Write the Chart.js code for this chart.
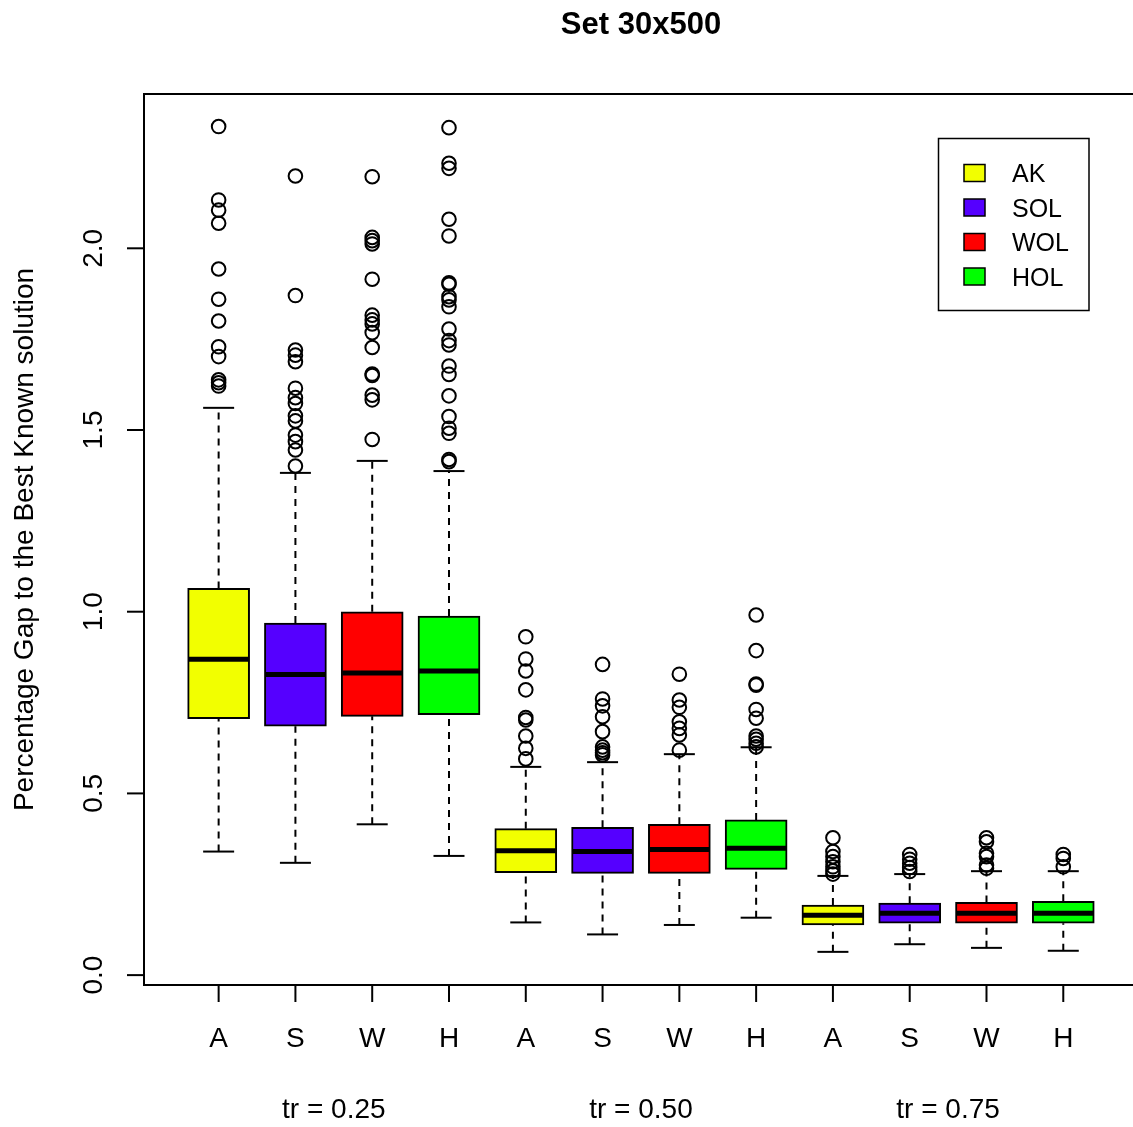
<!DOCTYPE html>
<html lang="en">
<head>
    <meta charset="UTF-8">
    <title>Set 30x500</title>
    <script src="https://cdn.jsdelivr.net/npm/chart.js@4.4.1/dist/chart.umd.min.js"></script>
    <style>
        body { margin: 0; background: #fff; overflow: hidden; }
        #wrap { width: 1133px; height: 1127px; }
    </style>
</head>
<body>
    <div id="wrap"><canvas id="chart" width="1133" height="1127"></canvas></div>

    <script>
        // box order: tr=0.25 (A S W H), tr=0.50 (A S W H), tr=0.75 (A S W H)
        const methods = ['AK', 'SOL', 'WOL', 'HOL'];
        const methodColors = ['#f2ff00', '#5500ff', '#ff0000', '#00ff00'];
        const boxLabels = ['A', 'S', 'W', 'H', 'A', 'S', 'W', 'H', 'A', 'S', 'W', 'H'];
        const groupLabels = ['tr = 0.25', 'tr = 0.50', 'tr = 0.75'];
        const yTicks = [0, 0.5, 1.0, 1.5, 2.0];
        const yTickLabels = ['0.0', '0.5', '1.0', '1.5', '2.0'];

        const lowerWhisker = [0.340, 0.309, 0.415, 0.328, 0.145, 0.112, 0.138, 0.158, 0.064, 0.085, 0.075, 0.067];
        const lowerQuart   = [0.706, 0.685, 0.712, 0.717, 0.282, 0.280, 0.280, 0.291, 0.138, 0.143, 0.143, 0.143];
        const medians      = [0.869, 0.827, 0.831, 0.837, 0.342, 0.340, 0.346, 0.349, 0.165, 0.170, 0.170, 0.170];
        const upperQuart   = [1.064, 0.969, 1.000, 0.988, 0.403, 0.407, 0.415, 0.427, 0.193, 0.198, 0.200, 0.203];
        const upperWhisker = [1.561, 1.382, 1.415, 1.387, 0.573, 0.586, 0.608, 0.627, 0.273, 0.278, 0.286, 0.286];

        const outliers = [
            [2.335, 2.133, 2.105, 2.069, 1.943, 1.860, 1.800, 1.729, 1.702, 1.638, 1.630, 1.621],
            [2.199, 1.870, 1.720, 1.706, 1.688, 1.615, 1.589, 1.573, 1.539, 1.525, 1.486, 1.468, 1.445, 1.401],
            [2.197, 2.030, 2.021, 2.012, 1.915, 1.816, 1.803, 1.792, 1.768, 1.727, 1.654, 1.650, 1.596, 1.583, 1.474],
            [2.332, 2.234, 2.220, 2.080, 2.034, 1.905, 1.901, 1.867, 1.858, 1.839, 1.778, 1.746, 1.734, 1.676, 1.653, 1.594, 1.537, 1.505, 1.491, 1.419, 1.413],
            [0.931, 0.870, 0.837, 0.785, 0.709, 0.702, 0.658, 0.624, 0.595],
            [0.855, 0.760, 0.741, 0.711, 0.670, 0.628, 0.619, 0.612, 0.606],
            [0.828, 0.757, 0.737, 0.697, 0.679, 0.661, 0.619],
            [0.991, 0.893, 0.801, 0.798, 0.731, 0.707, 0.658, 0.649, 0.638, 0.628],
            [0.378, 0.340, 0.326, 0.312, 0.298, 0.287, 0.278],
            [0.332, 0.319, 0.308, 0.296, 0.285],
            [0.378, 0.367, 0.335, 0.326, 0.303, 0.294],
            [0.332, 0.321, 0.298]
        ];

        const FONT = '"Liberation Sans", Arial, Helvetica, sans-serif';

        // one bar dataset per method
        const boxSets = methods.map((name, m) => ({
            type: 'bar',
            label: name,
            data: [0, 1, 2].map(g => {
                const i = g * 4 + m;
                return { x: i + 1, y: [lowerQuart[i], upperQuart[i]] };
            }),
            backgroundColor: methodColors[m],
            borderColor: '#000',
            borderWidth: 2,
            borderSkipped: false,
            grouped: false,
            barThickness: 62,
            order: 4
        }));

        const whiskerPts = [];
        boxLabels.forEach((_, i) => {
            whiskerPts.push({ x: i + 1, y: upperQuart[i] }, { x: i + 1, y: upperWhisker[i] }, { x: i + 1, y: null });
            whiskerPts.push({ x: i + 1, y: lowerWhisker[i] }, { x: i + 1, y: lowerQuart[i] }, { x: i + 1, y: null });
        });

        const capPts = [];
        boxLabels.forEach((_, i) => {
            capPts.push({ x: i + 1, y: upperWhisker[i] }, { x: i + 1, y: lowerWhisker[i] });
        });

        const outlierPts = [];
        outliers.forEach((list, i) => list.forEach(v => outlierPts.push({ x: i + 1, y: v })));

        const datasets = [
            {
                type: 'line',
                label: 'whiskers',
                data: whiskerPts,
                borderColor: '#000',
                borderWidth: 2,
                borderDash: [7, 6],
                pointRadius: 0,
                spanGaps: false,
                fill: false,
                order: 5
            },
            ...boxSets,
            {
                type: 'scatter',
                label: 'caps',
                data: capPts,
                pointStyle: 'line',
                radius: 15.5,
                borderColor: '#000',
                borderWidth: 2,
                order: 3
            },
            {
                type: 'scatter',
                label: 'medians',
                data: medians.map((v, i) => ({ x: i + 1, y: v })),
                pointStyle: 'line',
                radius: 30,
                borderColor: '#000',
                borderWidth: 5,
                order: 2
            },
            {
                type: 'scatter',
                label: 'outliers',
                data: outlierPts,
                pointStyle: 'circle',
                radius: 6.8,
                backgroundColor: 'rgba(0,0,0,0)',
                borderColor: '#000',
                borderWidth: 2,
                order: 1
            }
        ];

        const decorations = {
            id: 'decorations',
            afterDraw(chart) {
                const ctx = chart.ctx;
                const area = chart.chartArea;
                const xs = chart.scales.x;
                const ys = chart.scales.y;
                ctx.save();
                ctx.strokeStyle = '#000';
                ctx.fillStyle = '#000';
                ctx.lineWidth = 2;

                // plot frame (right side falls off the picture)
                ctx.beginPath();
                ctx.moveTo(area.right + 5, area.top);
                ctx.lineTo(area.left, area.top);
                ctx.lineTo(area.left, area.bottom);
                ctx.lineTo(area.right + 5, area.bottom);
                ctx.stroke();

                // y axis ticks + rotated labels
                ctx.font = '28px ' + FONT;
                ctx.textAlign = 'center';
                ctx.textBaseline = 'alphabetic';
                yTicks.forEach((v, k) => {
                    const y = ys.getPixelForValue(v);
                    ctx.beginPath();
                    ctx.moveTo(area.left, y);
                    ctx.lineTo(area.left - 17, y);
                    ctx.stroke();
                    ctx.save();
                    ctx.translate(102, y);
                    ctx.rotate(-Math.PI / 2);
                    ctx.fillText(yTickLabels[k], 0, 0);
                    ctx.restore();
                });

                // x axis ticks + labels
                boxLabels.forEach((lab, i) => {
                    const x = xs.getPixelForValue(i + 1);
                    ctx.beginPath();
                    ctx.moveTo(x, area.bottom);
                    ctx.lineTo(x, area.bottom + 17);
                    ctx.stroke();
                    ctx.fillText(lab, x, 1047);
                });

                groupLabels.forEach((lab, g) => {
                    ctx.fillText(lab, xs.getPixelForValue(g * 4 + 2.5), 1118);
                });

                // y axis title
                ctx.save();
                ctx.translate(33, (area.top + area.bottom) / 2);
                ctx.rotate(-Math.PI / 2);
                ctx.fillText('Percentage Gap to the Best Known solution', 0, 0);
                ctx.restore();

                // main title
                ctx.font = 'bold 31px ' + FONT;
                ctx.fillText('Set 30x500', 641, 34);

                // legend
                ctx.lineWidth = 1.5;
                ctx.strokeRect(938.5, 138.5, 150.5, 172);
                ctx.font = '25px ' + FONT;
                ctx.textAlign = 'left';
                methods.forEach((name, m) => {
                    const cy = 173 + m * 34.5;
                    ctx.fillStyle = methodColors[m];
                    ctx.fillRect(964, cy - 8.5, 21, 17);
                    ctx.strokeRect(964, cy - 8.5, 21, 17);
                    ctx.fillStyle = '#000';
                    ctx.fillText(name, 1012, cy + 9);
                });
                ctx.restore();
            }
        };

        new Chart(document.getElementById('chart'), {
            type: 'bar',
            data: { datasets: datasets },
            options: {
                responsive: false,
                animation: false,
                events: [],
                layout: { autoPadding: false, padding: { left: 144, top: 94, right: 0, bottom: 142 } },
                scales: {
                    x: { type: 'linear', offset: false, min: 0.028, max: 12.908, display: false },
                    y: { type: 'linear', min: -0.0272, max: 2.4246, display: false }
                },
                plugins: {
                    legend: { display: false },
                    tooltip: { enabled: false },
                    title: { display: false }
                }
            },
            plugins: [decorations]
        });
    </script>
</body>
</html>
